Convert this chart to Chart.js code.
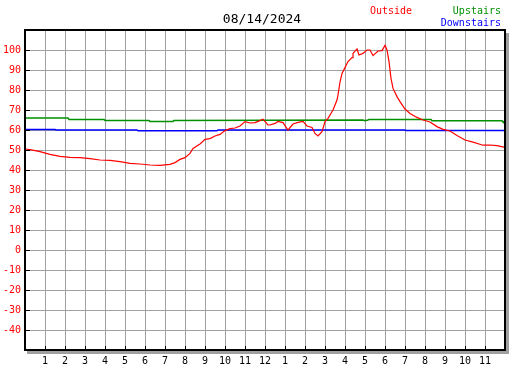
<!DOCTYPE html>
<html>
<head>
<meta charset="utf-8">
<script src="https://cdn.jsdelivr.net/npm/chart.js@4/dist/chart.umd.min.js"></script>
<style>
  html, body { margin: 0; padding: 0; background: #fff; }
  #tempChart { display: block; }
</style>
</head>
<body>
<canvas id="tempChart" width="527" height="370"></canvas>
<script>
const chartTitle = '08/14/2024';

// hours since midnight, temperatures in F
const outsideHours = [0, 0.25, 0.75, 1.25, 1.75, 2.25, 2.75, 3.25, 3.75, 4.25, 4.75, 5.25, 5.75, 6.25, 6.75, 7.25, 7.5, 7.75, 8.0, 8.25, 8.4, 8.75, 9.0, 9.25, 9.5, 9.75, 10.0, 10.25, 10.5, 10.75, 11.0, 11.25, 11.5, 11.75, 11.9, 12.15, 12.25, 12.5, 12.65, 12.9, 13.15, 13.4, 13.65, 13.9, 14.1, 14.35, 14.5, 14.65, 14.85, 15.0, 15.15, 15.4, 15.6, 15.65, 15.75, 15.85, 16.0, 16.15, 16.35, 16.4, 16.6, 16.7, 16.9, 17.1, 17.25, 17.4, 17.65, 17.85, 18.0, 18.1, 18.2, 18.3, 18.4, 18.6, 18.75, 19.0, 19.25, 19.6, 19.9, 20.25, 20.6, 20.9, 21.25, 21.6, 22.0, 22.4, 22.9, 23.25, 23.6, 24];
const outsideTemps = [50.5, 50.2, 49.2, 47.8, 46.8, 46.3, 46.2, 45.7, 45.0, 44.8, 44.2, 43.3, 43.0, 42.5, 42.3, 42.8, 43.7, 45.3, 46.2, 48.3, 50.8, 53.0, 55.3, 55.7, 57.0, 57.8, 59.7, 60.7, 61.0, 62.0, 64.2, 63.5, 63.7, 64.7, 65.4, 62.5, 62.5, 63.3, 64.3, 63.7, 60.0, 63.0, 63.8, 64.3, 62.0, 61.3, 58.3, 57.0, 59.2, 64.2, 65.8, 70.0, 75.0, 77.5, 84.0, 88.3, 91.2, 94.2, 96.2, 98.3, 100.5, 97.5, 98.3, 100.0, 100.0, 97.2, 99.5, 99.7, 102.3, 100.0, 94.2, 85.8, 80.8, 76.7, 74.2, 70.5, 68.3, 66.3, 65.0, 64.0, 61.7, 60.3, 59.5, 57.3, 55.0, 53.9, 52.4, 52.5, 52.2, 51.3];

const upstairsHours = [0, 2.15, 2.2, 3.95, 4.0, 6.2, 6.25, 7.4, 7.45, 16.9, 17.0, 17.15, 17.2, 20.3, 20.35, 23.85, 23.9, 24];
const upstairsTemps = [66, 66, 65.3, 65.3, 64.8, 64.8, 64.3, 64.3, 64.8, 65, 64.6, 65, 65.3, 65.3, 64.6, 64.6, 64, 64];

const downstairsHours = [0, 1.5, 1.55, 5.6, 5.65, 9.6, 9.65, 19.0, 19.05, 24];
const downstairsTemps = [60.3, 60.3, 60, 60, 59.6, 59.6, 60, 60, 59.8, 59.8];

const hourLabels = ['', '1', '2', '3', '4', '5', '6', '7', '8', '9', '10', '11', '12', '1', '2', '3', '4', '5', '6', '7', '8', '9', '10', '11', ''];

const monoFont = 'DejaVu Sans Mono';

function toPoints(xs, ys) {
  return xs.map((x, i) => ({ x: x, y: ys[i] }));
}

// frame, shadow, inner tick marks, title and legend text
const framePlugin = {
  id: 'frame',
  afterDraw(chart) {
    const ctx = chart.ctx;
    const a = chart.chartArea;
    const xs = chart.scales.x;
    const ys = chart.scales.y;
    ctx.save();

    ctx.fillStyle = '#a0a0a0';
    ctx.fillRect(a.right + 1, a.top + 3, 3, a.bottom - a.top + 1);
    ctx.fillRect(a.left + 2, a.bottom + 1, a.right - a.left + 2, 3);

    ctx.strokeStyle = '#000';
    ctx.lineWidth = 1;
    ctx.beginPath();
    for (let v = -40; v <= 100; v += 10) {
      const py = Math.round(ys.getPixelForValue(v)) + 0.5;
      ctx.moveTo(a.left, py);
      ctx.lineTo(a.left + 5, py);
    }
    for (let h = 1; h < 24; h++) {
      const px = Math.round(xs.getPixelForValue(h)) + 0.5;
      ctx.moveTo(px, a.bottom);
      ctx.lineTo(px, a.bottom - 4);
    }
    ctx.stroke();

    ctx.lineWidth = 2;
    ctx.strokeRect(a.left, a.top, a.right - a.left, a.bottom - a.top);

    ctx.textBaseline = 'middle';
    ctx.font = '13px ' + monoFont;
    ctx.fillStyle = '#000';
    ctx.textAlign = 'center';
    ctx.fillText(chartTitle, 262, 20);

    ctx.font = '10px ' + monoFont;
    const ds = chart.data.datasets;
    ctx.textAlign = 'left';
    ctx.fillStyle = ds[0].borderColor;
    ctx.fillText(ds[0].label, 370, 11);
    ctx.textAlign = 'right';
    ctx.fillStyle = ds[1].borderColor;
    ctx.fillText(ds[1].label, 501, 11);
    ctx.fillStyle = ds[2].borderColor;
    ctx.fillText(ds[2].label, 501, 23);
    ctx.restore();
  }
};

new Chart(document.getElementById('tempChart'), {
  type: 'line',
  data: {
    datasets: [{
      label: 'Outside',
      data: toPoints(outsideHours, outsideTemps),
      borderColor: '#ff0000',
      borderWidth: 1.2,
      pointRadius: 0,
      tension: 0,
      order: 0
    }, {
      label: 'Upstairs',
      data: toPoints(upstairsHours, upstairsTemps),
      borderColor: '#009000',
      borderWidth: 1.5,
      pointRadius: 0,
      tension: 0,
      order: 1
    }, {
      label: 'Downstairs',
      data: toPoints(downstairsHours, downstairsTemps),
      borderColor: '#0000ff',
      borderWidth: 1.5,
      pointRadius: 0,
      tension: 0,
      order: 2
    }]
  },
  options: {
    responsive: false,
    animation: false,
    devicePixelRatio: 1,
    layout: { padding: { top: 30, right: 22, left: 0, bottom: 0 } },
    plugins: {
      legend: { display: false },
      title: { display: false },
      tooltip: { enabled: false }
    },
    scales: {
      x: {
        type: 'linear',
        min: 0,
        max: 24,
        afterFit: scale => { scale.height = 20; },
        afterBuildTicks: scale => {
          scale.ticks = hourLabels.map((l, i) => ({ value: i }));
        },
        grid: { color: '#a0a0a0', lineWidth: 1, drawTicks: false },
        border: { display: false },
        ticks: {
          autoSkip: false,
          maxRotation: 0,
          padding: 5,
          color: '#000',
          font: { family: monoFont, size: 10 },
          callback: (v) => hourLabels[v]
        }
      },
      y: {
        min: -50,
        max: 110,
        afterFit: scale => { scale.width = 25; },
        grid: { color: '#a0a0a0', lineWidth: 1, drawTicks: false },
        border: { display: false },
        ticks: {
          stepSize: 10,
          padding: 4,
          color: '#ff0000',
          font: { family: monoFont, size: 10 },
          callback: (v) => (v === 110 || v === -50) ? '' : v
        }
      }
    }
  },
  plugins: [framePlugin]
});
</script>
</body>
</html>
